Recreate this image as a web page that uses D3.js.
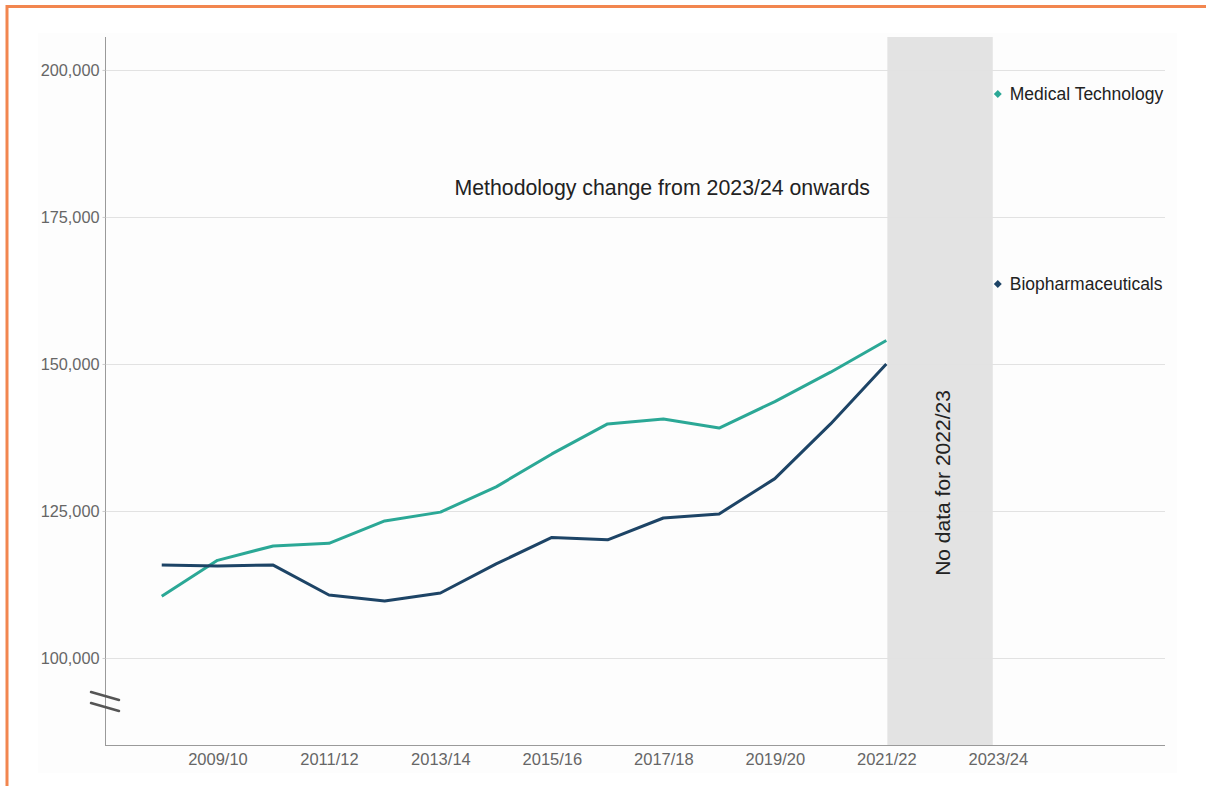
<!DOCTYPE html>
<html>
<head>
<meta charset="utf-8">
<script src="https://cdn.jsdelivr.net/npm/d3@7"></script>
<style>
  html, body { margin: 0; padding: 0; background: #ffffff; }
  svg { display: block; font-family: "Liberation Sans", Arial, sans-serif; }
</style>
</head>
<body>
<svg id="chart" width="1206" height="786"></svg>
<script>
// ---- Data ----
const years = ["2007/08","2008/09","2009/10","2010/11","2011/12","2012/13","2013/14","2014/15",
  "2015/16","2016/17","2017/18","2018/19","2019/20","2020/21","2021/22","2022/23","2023/24",
  "2024/25","2025/26","2026/27"];
const dataYears = ["2008/09","2009/10","2010/11","2011/12","2012/13","2013/14","2014/15",
  "2015/16","2016/17","2017/18","2018/19","2019/20","2020/21","2021/22"];
const medTech = [110500,116600,119050,119500,123300,124800,129100,134700,139800,140650,139100,143600,148600,154000];
const biopharma = [115800,115650,115800,110700,109700,111050,116000,120500,120100,123800,124500,130500,139800,150000];
const latestYear = "2023/24";
const latestMedTech = 195900;
const latestBiopharma = 163600;
const yTicks = [100000,125000,150000,175000,200000];
const xTickLabels = ["2009/10","2011/12","2013/14","2015/16","2017/18","2019/20","2021/22","2023/24"];
const seriesNames = ["Medical Technology","Biopharmaceuticals"];
const colors = ["#2ba896","#1d4466"];

// ---- Layout ----
const svg = d3.select("#chart");
const mLeft = 106, mRight = 1165, mTop = 37, mBottom = 745;

const x = d3.scalePoint().domain(years).range([mLeft, mRight]).padding(0);
const y = d3.scaleLinear().domain([85200, 205600]).range([mBottom, mTop]);

// outer orange frame
svg.append("rect").attr("x", 7).attr("y", 6.5).attr("width", 1260).attr("height", 850)
  .attr("fill", "none").attr("stroke", "#f2864f").attr("stroke-width", 3);

// subtle plot background
svg.append("rect").attr("x", 38).attr("y", 33).attr("width", 1139).attr("height", 740)
  .attr("fill", "#fdfdfd");

// no-data band
svg.append("rect")
  .attr("x", x("2021/22") + 1).attr("y", mTop)
  .attr("width", x("2023/24") - x("2021/22") - 6).attr("height", mBottom - mTop)
  .attr("fill", "#e3e3e3");

// gridlines
svg.append("g").selectAll("line").data(yTicks).join("line")
  .attr("x1", mLeft).attr("x2", mRight)
  .attr("y1", d => Math.round(y(d)) + 0.5).attr("y2", d => Math.round(y(d)) + 0.5)
  .attr("stroke", "#e2e2e2").attr("stroke-width", 1);

// y axis
const yAxis = d3.axisLeft(y).tickValues(yTicks).tickFormat(d3.format(",")).tickSize(3).tickPadding(3);
const gy = svg.append("g").attr("transform", `translate(${mLeft - 0.5},0)`).call(yAxis);
gy.select(".domain").attr("stroke", "#9a9a9a").attr("d", `M0,${mTop}V${mBottom}`);
gy.selectAll(".tick line").attr("stroke", "#cccccc");
gy.selectAll(".tick text").attr("fill", "#666666").style("font-size", "16.3px")
  .style("font-family", "'Liberation Sans', Arial, sans-serif");

// x axis
const xAxis = d3.axisBottom(x).tickValues(xTickLabels).tickSize(0).tickPadding(8);
const gx = svg.append("g").attr("transform", `translate(0,${mBottom + 0.5})`).call(xAxis);
gx.select(".domain").attr("stroke", "#9a9a9a").attr("d", `M${mLeft - 1},0H${mRight}`);
gx.selectAll(".tick text").attr("fill", "#666666").style("font-size", "16.5px")
  .style("font-family", "'Liberation Sans', Arial, sans-serif");

// axis break marks
const brk = svg.append("g").attr("stroke", "#555555").attr("stroke-width", 2.5).attr("stroke-linecap", "round");
brk.append("line").attr("x1", 91).attr("y1", 692).attr("x2", 119).attr("y2", 700);
brk.append("line").attr("x1", 91).attr("y1", 703).attr("x2", 119).attr("y2", 711);

// lines
const line = d3.line().x((d, i) => x(dataYears[i])).y(d => y(d));
[medTech, biopharma].forEach((s, k) => {
  svg.append("path").datum(s).attr("d", line)
    .attr("fill", "none").attr("stroke", colors[k]).attr("stroke-width", 3)
    .attr("stroke-linejoin", "round");
});

// latest points + labels
const sym = d3.symbol().type(d3.symbolDiamond2).size(40);
[[latestMedTech, 0], [latestBiopharma, 1]].forEach(([v, k]) => {
  svg.append("path").attr("d", sym)
    .attr("transform", `translate(${x(latestYear)},${y(v)})`)
    .attr("fill", colors[k]);
  svg.append("text").attr("x", x(latestYear) + 12).attr("y", y(v)).attr("dy", "0.35em")
    .attr("fill", "#222222").style("font-size", "17.5px").text(seriesNames[k]);
});

// annotations
svg.append("text").attr("x", 870).attr("y", 188).attr("dy", "0.35em")
  .attr("text-anchor", "end").attr("fill", "#222222").style("font-size", "21.3px")
  .text("Methodology change from 2023/24 onwards");

svg.append("text")
  .attr("transform", `translate(950,483) rotate(-90)`)
  .attr("text-anchor", "middle").attr("fill", "#222222").style("font-size", "21px")
  .text("No data for 2022/23");
</script>
</body>
</html>
